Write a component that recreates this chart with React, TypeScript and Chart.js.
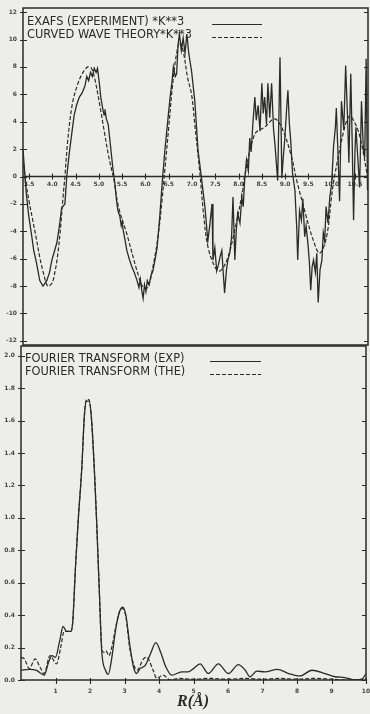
import React, { useEffect, useRef } from "react";
import { Chart, registerables } from "chart.js";

Chart.register(...registerables);

const INK = "#2a2a2a";
const BG = "#ededeb";

// ---------- Upper panel: EXAFS * k^3 ----------
const kExp = [
  3.37, 3.40, 3.44, 3.49, 3.56, 3.60, 3.66, 3.73, 3.80, 3.88, 3.94, 3.99, 4.05, 4.10, 4.16, 4.20, 4.27, 4.31,
  4.36, 4.42, 4.47, 4.52, 4.58, 4.64, 4.70, 4.74, 4.78, 4.82, 4.86, 4.90, 4.94, 4.97, 5.01, 5.04, 5.08, 5.11,
  5.13, 5.16, 5.20, 5.25, 5.30, 5.34, 5.38, 5.41, 5.45, 5.48, 5.50, 5.52, 5.56, 5.60, 5.65, 5.71, 5.76, 5.82,
  5.86, 5.89, 5.92, 5.95, 5.98, 6.01, 6.04, 6.08, 6.12, 6.16, 6.21, 6.25, 6.31, 6.37, 6.42, 6.48, 6.53, 6.57,
  6.60, 6.64, 6.67, 6.70, 6.73, 6.77, 6.81, 6.85, 6.89, 6.93, 6.99, 7.06, 7.13, 7.21, 7.28, 7.34, 7.38, 7.43,
  7.45, 7.49, 7.53, 7.57, 7.60, 7.64, 7.67, 7.70, 7.74, 7.77, 7.81, 7.85, 7.88, 7.92, 7.95, 7.98, 8.03, 8.07,
  8.10, 8.13, 8.17, 8.21, 8.24, 8.27, 8.31, 8.35, 8.38, 8.42, 8.46, 8.50, 8.53, 8.56, 8.60, 8.63, 8.67, 8.71,
  8.75, 8.78, 8.84, 8.89, 8.93, 8.96, 8.99, 9.03, 9.06, 9.09, 9.12, 9.16, 9.21, 9.25, 9.27, 9.31, 9.35, 9.38,
  9.42, 9.45, 9.49, 9.52, 9.55, 9.58, 9.61, 9.65, 9.68, 9.71, 9.75, 9.79, 9.82, 9.85, 9.88, 9.92, 9.96, 10.00,
  10.04, 10.08, 10.10, 10.14, 10.17, 10.21, 10.26, 10.30, 10.34, 10.37, 10.41, 10.44, 10.47, 10.50, 10.52,
  10.56, 10.60, 10.64, 10.68, 10.71, 10.74, 10.77,
];
const chiExp = [
  2.0, 0.6, -1.2, -2.8, -4.4, -5.4, -6.3, -7.6, -8.0, -7.6, -7.0, -6.1, -5.4, -4.8, -3.4, -2.3, -2.0, 0.0,
  1.6, 3.2, 4.5, 5.2, 5.8, 6.1, 6.6, 7.3, 7.0, 7.6, 7.3, 7.9, 7.6, 7.9, 6.8, 5.8, 5.0, 4.5,
  4.9, 4.2, 3.8, 2.2, 0.6, -0.4, -1.8, -2.5, -2.9, -3.6, -3.3, -3.9, -4.6, -5.4, -6.0, -6.6, -7.0, -7.6,
  -8.1, -7.5, -8.3, -8.9, -7.9, -8.4, -7.6, -7.9, -7.2, -6.9, -6.0, -5.2, -2.8, 0.0, 2.0, 4.1, 5.8, 6.9,
  8.0, 7.3, 7.5, 9.6, 10.4, 9.2, 10.1, 9.0, 10.4, 9.0, 7.7, 5.5, 1.9, -0.3, -2.3, -4.7, -3.6, -2.0,
  -6.1, -5.2, -6.9, -6.4, -5.9, -5.4, -7.0, -8.5, -6.8, -6.1, -5.6, -4.4, -1.5, -6.1, -4.0, -2.7, -3.4, -1.5,
  -2.2, -0.3, 1.2, 0.4, 2.8, 1.8, 4.0, 5.8, 4.1, 5.2, 3.3, 6.8, 4.6, 5.8, 3.8, 6.8, 4.3, 6.8,
  3.5, 2.4, -0.3, 8.7, -0.1, 1.4, 2.6, 4.8, 6.3, 3.9, 2.6, 0.2, -1.0, -3.8, -6.1, -2.5, -3.2, -1.6,
  -4.4, -3.6, -4.9, -6.2, -8.3, -6.6, -6.1, -7.0, -5.6, -9.2, -6.8, -6.1, -4.1, -4.7, -2.2, -3.4, -1.5, -0.5,
  2.2, 3.6, 5.0, 1.2, -1.8, 5.5, 3.4, 8.1, 4.4, 1.0, 7.5, 2.6, -3.2, 1.8, 3.6,
  1.4, -0.8, 5.5, 2.0, 1.4, 8.6, -1.0,
];
const kThe = [
  3.37, 3.42, 3.50, 3.58, 3.66, 3.73, 3.82, 3.90, 3.99, 4.06, 4.12, 4.18, 4.23, 4.27, 4.33, 4.43, 4.55, 4.66,
  4.76, 4.84, 4.92, 5.02, 5.12, 5.22, 5.32, 5.42, 5.60, 5.82, 5.95, 6.05, 6.16, 6.27, 6.36, 6.42, 6.50, 6.58,
  6.66, 6.74, 6.82, 6.90, 6.99, 7.06, 7.17, 7.25, 7.34, 7.49, 7.60, 7.75, 7.92, 8.09, 8.13, 8.35, 8.56, 8.78,
  8.95, 9.14, 9.25, 9.42, 9.59, 9.74, 9.89, 10.00, 10.06, 10.28, 10.39, 10.54, 10.64, 10.77,
];
const chiThe = [
  1.3, -0.2, -1.8, -3.2, -4.6, -5.9, -7.2, -8.0, -7.8, -6.9, -5.6, -3.6, -1.5, 0.0, 2.6, 5.3, 6.8, 7.6,
  8.0, 7.9, 7.0, 5.2, 3.2, 1.3, -0.2, -2.2, -4.2, -6.9, -8.1, -8.1, -6.6, -4.4, -1.6, 0.6, 3.6, 6.6,
  8.8, 9.8, 9.0, 7.3, 6.0, 3.8, 0.2, -2.8, -5.1, -6.6, -6.9, -6.1, -3.9, -1.0, 0.0, 3.1, 3.6, 4.2,
  3.4, 1.4, -0.3, -2.5, -4.5, -5.6, -4.4, -1.4, 0.0, 3.6, 4.4, 3.6, 2.4, 0.0,
];
const kTicks = [3.5, 4.0, 4.5, 5.0, 5.5, 6.0, 6.5, 7.0, 7.5, 8.0, 8.5, 9.0, 9.5, 10.0, 10.5];
const kTickLabels = ["3.5", "4.0", "4.5", "5.0", "5.5", "6.0", "6.5", "7.0", "7.5", "8.0", "8.5", "9.0", "9.5", "10.0", "10.5"];
const chiTicks = [12, 10, 8, 6, 4, 2, 0, -2, -4, -6, -8, -10, -12];
const topLegend = ["EXAFS (EXPERIMENT) *K**3", "CURVED WAVE THEORY*K**3"];

// ---------- Lower panel: Fourier transforms ----------
const rExp = [
  0.00, 0.25, 0.45, 0.55, 0.67, 0.80, 0.90, 1.00, 1.12, 1.22, 1.32, 1.44, 1.50, 1.58, 1.66, 1.76, 1.84, 1.90,
  1.97, 2.04, 2.13, 2.19, 2.27, 2.34, 2.45, 2.53, 2.62, 2.75, 2.87, 2.95, 3.04, 3.15, 3.26, 3.35, 3.45, 3.60,
  3.75, 3.91, 4.05, 4.20, 4.37, 4.66, 4.84, 5.00, 5.19, 5.43, 5.72, 6.01, 6.30, 6.50, 6.64, 6.83, 7.07, 7.43,
  7.76, 8.09, 8.43, 8.81, 9.10, 9.39, 9.68, 9.88, 10.00,
];
const ftExp = [
  0.06, 0.065, 0.06, 0.045, 0.03, 0.11, 0.15, 0.14, 0.24, 0.33, 0.30, 0.30, 0.36, 0.70, 0.99, 1.30, 1.64, 1.72,
  1.72, 1.62, 1.28, 0.99, 0.55, 0.18, 0.06, 0.035, 0.12, 0.32, 0.43, 0.45, 0.40, 0.22, 0.08, 0.04, 0.07, 0.09,
  0.16, 0.23, 0.17, 0.08, 0.03, 0.05, 0.05, 0.07, 0.10, 0.04, 0.10, 0.04, 0.095, 0.06, 0.02, 0.055, 0.05, 0.065,
  0.04, 0.025, 0.06, 0.04, 0.02, 0.015, 0.0, 0.005, 0.04,
];
const rThe = [
  0.00, 0.10, 0.24, 0.41, 0.55, 0.67, 0.84, 1.03, 1.15, 1.25, 1.35, 1.45, 1.50, 1.58, 1.66, 1.76, 1.84, 1.90,
  1.97, 2.04, 2.13, 2.19, 2.27, 2.34, 2.40, 2.46, 2.55, 2.65, 2.75, 2.87, 2.95, 3.04, 3.15, 3.26, 3.36, 3.55,
  3.64, 3.83, 3.93, 4.12, 4.32, 4.60, 5.00, 5.50, 6.00, 6.50, 7.00, 7.50, 8.00, 8.50, 9.00, 9.50, 10.00,
];
const ftThe = [
  0.14, 0.13, 0.07, 0.13, 0.08, 0.04, 0.15, 0.10, 0.20, 0.30, 0.30, 0.30, 0.36, 0.70, 0.99, 1.30, 1.64, 1.73,
  1.73, 1.62, 1.28, 0.99, 0.55, 0.20, 0.17, 0.18, 0.15, 0.22, 0.33, 0.43, 0.44, 0.39, 0.20, 0.10, 0.06, 0.13,
  0.14, 0.06, 0.01, 0.03, 0.0, 0.01, 0.005, 0.01, 0.005, 0.01, 0.005, 0.01, 0.005, 0.01, 0.005, 0.0, 0.005,
];
const rTicks = [1, 2, 3, 4, 5, 6, 7, 8, 9, 10];
const ftTicks = [2.0, 1.8, 1.6, 1.4, 1.2, 1.0, 0.8, 0.6, 0.4, 0.2, 0.0];
const bottomLegend = ["FOURIER TRANSFORM (EXP)", "FOURIER TRANSFORM (THE)"];
const xTitle = "R(Å)";

const TICK_FONT = { family: "DejaVu Sans", size: 6, weight: "bold" as const };
const LEGEND_FONT = "11.4px 'DejaVu Sans'";

type Decor = {
  axisAt: number;
  axisLine: boolean;
  tickUp: number;
  tickDown: number;
  legend: string[];
  legendX: number;
  legendY: number;
  legendGap: number;
  sampleX1: number;
  sampleX2: number;
  sampleDy: number;
};

function decorPlugin(d: Decor) {
  return {
    id: "decor",
    afterDraw(chart: any) {
      const { ctx, chartArea: a, scales } = chart;
      const xs = scales.x;
      const ys = scales.y;
      ctx.save();
      ctx.strokeStyle = INK;
      ctx.fillStyle = INK;
      ctx.lineWidth = 1.5;
      ctx.strokeRect(a.left, a.top, a.right - a.left, a.bottom - a.top);
      ctx.lineWidth = 1.1;
      ctx.beginPath();
      ys.ticks.forEach((t: any) => {
        const py = Math.round(ys.getPixelForValue(t.value)) + 0.5;
        ctx.moveTo(a.left - 3, py);
        ctx.lineTo(a.left + 4, py);
        ctx.moveTo(a.right - 4, py);
        ctx.lineTo(a.right, py);
      });
      const by = ys.getPixelForValue(d.axisAt);
      xs.ticks.forEach((t: any) => {
        const px = Math.round(xs.getPixelForValue(t.value)) + 0.5;
        ctx.moveTo(px, by - d.tickUp);
        ctx.lineTo(px, by + d.tickDown);
      });
      ctx.stroke();
      if (d.axisLine) {
        ctx.lineWidth = 1.4;
        ctx.beginPath();
        ctx.moveTo(a.left, by);
        ctx.lineTo(a.right, by);
        ctx.stroke();
      }
      ctx.font = LEGEND_FONT;
      ctx.textBaseline = "alphabetic";
      ctx.textAlign = "left";
      ctx.lineWidth = 1.2;
      d.legend.forEach((text, i) => {
        const y = d.legendY + i * d.legendGap;
        ctx.fillText(text, d.legendX, y);
        ctx.setLineDash(i === 0 ? [] : [4, 2]);
        ctx.beginPath();
        ctx.moveTo(d.sampleX1, y + d.sampleDy + 0.5);
        ctx.lineTo(d.sampleX2, y + d.sampleDy + 0.5);
        ctx.stroke();
      });
      ctx.restore();
    },
  };
}

function pts(xs: number[], ys: number[]) {
  return xs.map((x, i) => ({ x, y: ys[i] }));
}

function topConfig(): any {
  return {
    type: "line",
    data: {
      datasets: [
        {
          data: pts(kExp, chiExp),
          borderColor: INK,
          borderWidth: 1.3,
          pointRadius: 0,
          tension: 0,
        },
        {
          data: pts(kThe, chiThe),
          borderColor: INK,
          borderWidth: 1.2,
          borderDash: [4, 2],
          pointRadius: 0,
          tension: 0.35,
        },
      ],
    },
    options: {
      responsive: false,
      animation: false,
      devicePixelRatio: 1,
      layout: { padding: { left: 0, top: 8, right: 2, bottom: 15 } },
      plugins: { legend: { display: false }, tooltip: { enabled: false } },
      scales: {
        x: {
          type: "linear",
          min: 3.37,
          max: 10.78,
          position: { y: 0 },
          grid: { display: false, drawTicks: false },
          border: { display: false },
          ticks: {
            font: TICK_FONT,
            color: "#444",
            padding: 4,
            maxRotation: 0,
            autoSkip: false,
            callback: (_v: any, i: number) => kTickLabels[i],
          },
          afterBuildTicks: (s: any) => {
            s.ticks = kTicks.map((v) => ({ value: v }));
          },
          afterFit: (s: any) => {
            s.paddingLeft = 0;
            s.paddingRight = 0;
          },
        },
        y: {
          type: "linear",
          min: -12.3,
          max: 12.3,
          position: "left",
          grid: { display: false, drawTicks: false },
          border: { display: false },
          ticks: {
            font: TICK_FONT,
            color: "#444",
            padding: 6,
            autoSkip: false,
            callback: (v: any) => String(v),
          },
          afterBuildTicks: (s: any) => {
            s.ticks = chiTicks.map((v) => ({ value: v }));
          },
          afterFit: (s: any) => {
            s.width = 23;
            s.paddingTop = 0;
            s.paddingBottom = 0;
          },
        },
      },
    },
    plugins: [
      decorPlugin({
        axisAt: 0,
        axisLine: true,
        tickUp: 3,
        tickDown: 3,
        legend: topLegend,
        legendX: 27,
        legendY: 25,
        legendGap: 13,
        sampleX1: 212,
        sampleX2: 262,
        sampleDy: -1,
      }),
    ],
  };
}

function bottomConfig(): any {
  return {
    type: "line",
    data: {
      datasets: [
        {
          data: pts(rExp, ftExp),
          borderColor: INK,
          borderWidth: 1.3,
          pointRadius: 0,
          cubicInterpolationMode: "monotone",
        },
        {
          data: pts(rThe, ftThe),
          borderColor: INK,
          borderWidth: 1.2,
          borderDash: [4, 2],
          pointRadius: 0,
          cubicInterpolationMode: "monotone",
        },
      ],
    },
    options: {
      responsive: false,
      animation: false,
      devicePixelRatio: 1,
      layout: { padding: { left: 0, top: 16, right: 4, bottom: 14 } },
      plugins: { legend: { display: false }, tooltip: { enabled: false } },
      scales: {
        x: {
          type: "linear",
          min: 0,
          max: 10,
          position: "bottom",
          grid: { display: false, drawTicks: false },
          border: { display: false },
          ticks: {
            font: TICK_FONT,
            color: "#444",
            padding: 8,
            maxRotation: 0,
            autoSkip: false,
            callback: (v: any) => String(v),
          },
          afterBuildTicks: (s: any) => {
            s.ticks = rTicks.map((v) => ({ value: v }));
          },
          afterFit: (s: any) => {
            s.height = 20;
            s.paddingLeft = 0;
            s.paddingRight = 0;
          },
        },
        y: {
          type: "linear",
          min: 0,
          max: 2.06,
          position: "left",
          grid: { display: false, drawTicks: false },
          border: { display: false },
          ticks: {
            font: TICK_FONT,
            color: "#444",
            padding: 6,
            autoSkip: false,
            callback: (v: any) => Number(v).toFixed(1),
          },
          afterBuildTicks: (s: any) => {
            s.ticks = ftTicks.map((v) => ({ value: v }));
          },
          afterFit: (s: any) => {
            s.width = 21;
            s.paddingTop = 0;
            s.paddingBottom = 0;
          },
        },
      },
    },
    plugins: [
      decorPlugin({
        axisAt: 0,
        axisLine: false,
        tickUp: 2,
        tickDown: 4,
        legend: bottomLegend,
        legendX: 25,
        legendY: 32,
        legendGap: 13,
        sampleX1: 210,
        sampleX2: 261,
        sampleDy: -1,
      }),
    ],
  };
}

export default function App() {
  const topRef = useRef<HTMLCanvasElement | null>(null);
  const botRef = useRef<HTMLCanvasElement | null>(null);

  useEffect(() => {
    document.body.style.margin = "0";
    document.body.style.background = BG;
    const top = new Chart(topRef.current as HTMLCanvasElement, topConfig());
    const bot = new Chart(botRef.current as HTMLCanvasElement, bottomConfig());
    return () => {
      top.destroy();
      bot.destroy();
    };
  }, []);

  return (
    <div style={{ position: "relative", width: 370, height: 714, background: BG, overflow: "hidden" }}>
      <canvas
        ref={topRef}
        width={370}
        height={360}
        style={{ position: "absolute", left: 0, top: 0, width: 370, height: 360 }}
      />
      <canvas
        ref={botRef}
        width={370}
        height={384}
        style={{ position: "absolute", left: 0, top: 330, width: 370, height: 384 }}
      />
      <div
        style={{
          position: "absolute",
          left: 0,
          width: 386,
          top: 692,
          textAlign: "center",
          font: "italic bold 16px 'Liberation Serif'",
          lineHeight: "18px",
          color: INK,
        }}
      >
        {xTitle}
      </div>
    </div>
  );
}
